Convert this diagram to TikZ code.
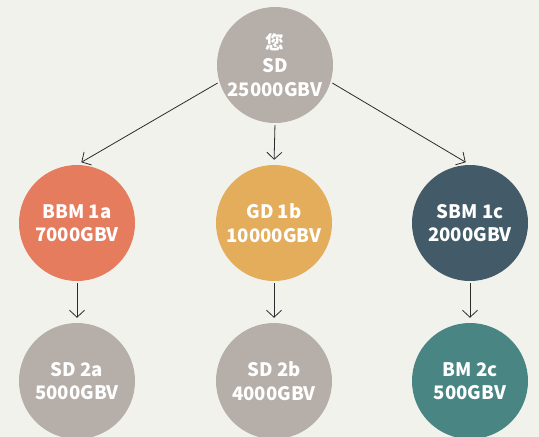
\documentclass[tikz,border=0pt]{standalone}
\usepackage{fontspec}
\setmainfont{Noto Sans CJK SC}
\usetikzlibrary{arrows.meta}
\definecolor{bgcol}{HTML}{F2F2ED}
\definecolor{greycol}{HTML}{B5AEA9}
\definecolor{orangecol}{HTML}{E67C5E}
\definecolor{yellowcol}{HTML}{E3AD5B}
\definecolor{slatecol}{HTML}{435A68}
\definecolor{tealcol}{HTML}{488583}
\definecolor{linecol}{HTML}{2B2B2B}
\newcommand{\drawball}[5]{
    % #1 name, #2 x, #3 y, #4 colour, #5 text
    \node[ball, fill=#4] (#1) at (#2,#3) {#5};
}

\begin{document}
\begin{tikzpicture}[x=1pt, y=-1pt,
    ball/.style={circle, minimum size=116pt, inner sep=0pt, text=white, align=center,
        font=\bfseries\fontsize{18.6}{23.5}\selectfont},
    arr/.style={draw=linecol, line width=0.8pt, -{Straight Barb[length=7pt,width=15pt]},
        shorten >=5pt, shorten <=2pt}]
    \fill[bgcol] (0,0) rectangle (539,437);
    \useasboundingbox (0,0) rectangle (539,437);

    % Nodes
    \drawball{sd}{275}{65}{greycol}{您\\SD\\25000GBV}
    \drawball{bbm}{77}{223}{orangecol}{BBM 1a\\7000GBV}
    \drawball{gd}{274}{223}{yellowcol}{GD 1b\\10000GBV}
    \drawball{sbm}{470}{223}{slatecol}{SBM 1c\\2000GBV}
    \drawball{sda}{77}{381}{greycol}{SD 2a\\5000GBV}
    \drawball{sdb}{274}{381}{greycol}{SD 2b\\4000GBV}
    \drawball{bm}{470}{381}{tealcol}{BM 2c\\500GBV}

    % Edges
    \draw[arr] (sd.197) -- (bbm.north);
    \draw[arr] (sd.south) -- (gd.north);
    \draw[arr] (sd.-17) -- (sbm.north);
    \draw[arr] (bbm.south) -- (sda.north);
    \draw[arr] (gd.south) -- (sdb.north);
    \draw[arr] (sbm.south) -- (bm.north);
\end{tikzpicture}
\end{document}
